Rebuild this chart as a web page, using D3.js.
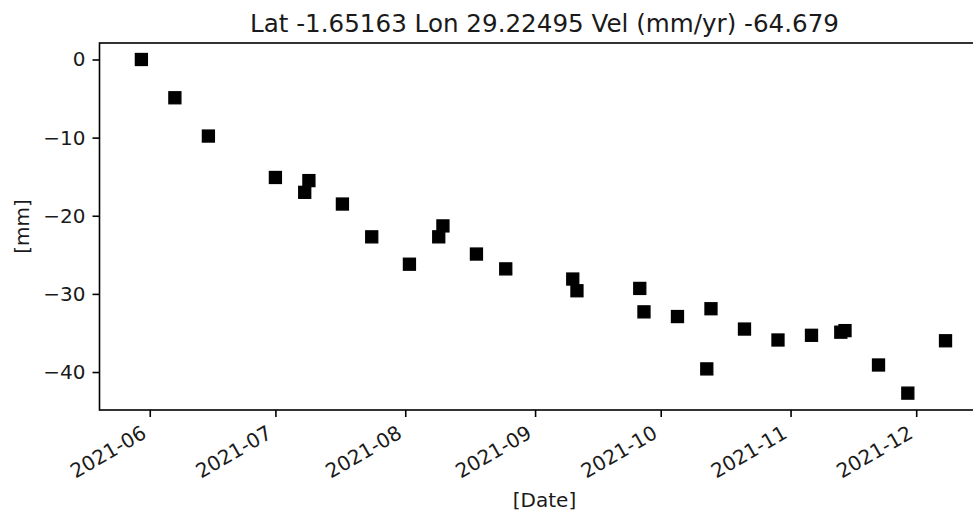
<!DOCTYPE html>
<html>
<head>
<meta charset="utf-8">
<script src="https://cdn.jsdelivr.net/npm/d3@7"></script>
<style>
  html, body { margin: 0; padding: 0; background: #fff; }
  svg { display: block; font-family: "DejaVu Sans", sans-serif; }
</style>
</head>
<body>
<svg id="chart" width="973" height="514"></svg>
<script>
// Displacement time series at one InSAR point
const titleText = "Lat -1.65163 Lon 29.22495 Vel (mm/yr) -64.679";
const dates = [
  "2021-05-30", "2021-06-07", "2021-06-15", "2021-07-01", "2021-07-08",
  "2021-07-09", "2021-07-17", "2021-07-24", "2021-08-02", "2021-08-09",
  "2021-08-10", "2021-08-18", "2021-08-25", "2021-09-10", "2021-09-11",
  "2021-09-26", "2021-09-27", "2021-10-05", "2021-10-12", "2021-10-13",
  "2021-10-21", "2021-10-29", "2021-11-06", "2021-11-13", "2021-11-14",
  "2021-11-22", "2021-11-29", "2021-12-08"
];
const displacement = [
  0.0, -4.9, -9.8, -15.1, -17.0,
  -15.5, -18.5, -22.7, -26.2, -22.7,
  -21.3, -24.9, -26.8, -28.1, -29.6,
  -29.3, -32.3, -32.9, -39.6, -31.9,
  -34.5, -35.9, -35.3, -34.9, -34.7,
  -39.1, -42.7, -36.0
];
const yTicks = [0, -10, -20, -30, -40];
const xTicks = ["2021-06-01", "2021-07-01", "2021-08-01", "2021-09-01",
                "2021-10-01", "2021-11-01", "2021-12-01"];
const xLimits = ["2021-05-20T00:00:00Z", "2021-12-18T12:00:00Z"];
const yLimits = [-44.86, 2.11];

const parse = d3.utcParse("%Y-%m-%d");
const fmt = d3.utcFormat("%Y-%m");
const points = dates.map((d, i) => ({ date: parse(d), value: displacement[i] }));

const svg = d3.select("#chart");
const plotLeft = 99.5, plotRight = 989.5, plotTop = 43, plotBottom = 410;

const x = d3.scaleUtc().domain(xLimits.map(s => new Date(s))).range([plotLeft, plotRight]);
const y = d3.scaleLinear().domain(yLimits).range([plotBottom, plotTop]);

// Axes frame; its right side runs past the canvas edge
svg.append("rect")
  .attr("x", plotLeft).attr("y", plotTop)
  .attr("width", plotRight - plotLeft).attr("height", plotBottom - plotTop)
  .attr("fill", "none").attr("stroke", "#000").attr("stroke-width", 1.6);

// Y axis
const yAxis = d3.axisLeft(y).tickValues(yTicks).tickSize(7).tickPadding(7)
  .tickFormat(v => (v < 0 ? "\u2212" + Math.abs(v) : String(v)));
const gy = svg.append("g").attr("transform", `translate(${plotLeft},0)`).call(yAxis);
gy.select(".domain").remove();
gy.selectAll(".tick line").attr("stroke", "#000").attr("stroke-width", 1.6);
gy.selectAll(".tick text").attr("font-size", 20).attr("fill", "#1a1a1a")
  .attr("font-family", "DejaVu Sans");

// X axis with rotated date labels
const xAxis = d3.axisBottom(x).tickValues(xTicks.map(parse)).tickSize(7).tickFormat(fmt);
const gx = svg.append("g").attr("transform", `translate(0,${plotBottom})`).call(xAxis);
gx.select(".domain").remove();
gx.selectAll(".tick line").attr("stroke", "#000").attr("stroke-width", 1.6);
gx.selectAll(".tick text")
  .attr("font-size", 20).attr("fill", "#1a1a1a").attr("font-family", "DejaVu Sans")
  .attr("text-anchor", "end")
  .attr("dy", null)
  .attr("y", 0)
  .attr("transform", "translate(-2.5,27) rotate(-30)");

// Markers
svg.append("g").selectAll("rect.pt").data(points).join("rect")
  .attr("class", "pt")
  .attr("x", d => x(d.date) - 6)
  .attr("y", d => y(d.value) - 6)
  .attr("width", 12).attr("height", 12)
  .attr("fill", "#000").attr("stroke", "#000").attr("stroke-width", 1.3);

// Title and axis labels
svg.append("text").attr("x", (plotLeft + plotRight) / 2).attr("y", 32)
  .attr("text-anchor", "middle").attr("font-size", 24.6).attr("fill", "#1a1a1a")
  .text(titleText);
svg.append("text").attr("x", (plotLeft + plotRight) / 2).attr("y", 507)
  .attr("text-anchor", "middle").attr("font-size", 20).attr("fill", "#1a1a1a")
  .text("[Date]");
svg.append("text").attr("transform", `translate(29,${(plotTop + plotBottom) / 2}) rotate(-90)`)
  .attr("text-anchor", "middle").attr("font-size", 20).attr("fill", "#1a1a1a")
  .text("[mm]");
</script>
</body>
</html>
